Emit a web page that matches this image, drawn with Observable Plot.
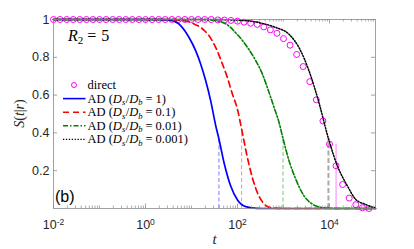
<!DOCTYPE html>
<html>
<head>
<meta charset="utf-8">
<script src="https://cdn.jsdelivr.net/npm/d3@7"></script>
<script src="https://cdn.jsdelivr.net/npm/@observablehq/plot@0.6"></script>
<style>
  html, body { margin: 0; padding: 0; background: #fff; }
  #chart svg { display: block; }
</style>
</head>
<body>
<div id="chart"></div>
<script>
// ---- data ----
const directT = [0.01,0.01389,0.01931,0.02683,0.03728,0.05179,0.07197,
  0.1,0.1389,0.1931,0.2683,0.3728,0.5179,0.7197,
  1,1.389,1.931,2.683,3.728,5.179,7.197,
  10,13.89,19.31,26.83,37.28,51.79,71.97,
  100,138.9,193.1,268.3,372.8,517.9,719.7,
  1000,1389,1931,2683,3728,5179,7197,
  10000,13895,19307,26827,37276,51795,71969,100000];
const directS = [1,1,1,1,1,1,1,
  1,1,1,1,1,1,1,
  1,1,1,1,1,1,1,
  1,1,1,1,0.998,0.997,
  0.995,0.991,0.986,0.980,0.974,0.961,0.945,0.927,
  0.899,0.864,0.815,0.751,0.671,0.575,0.463,
  0.341,0.226,0.127,0.055,0.02,0.004,0];

const adT1 = [0.01,1,2.13,3.52,5.8,8.79,12.3,15.8,20.3,26.1,33.5,39.5,50.7,70.8,100,151,269,500,100000];
const adS1 = [1,1,0.999,0.995,0.968,0.906,0.835,0.765,0.677,0.571,0.44,0.368,0.245,0.12,0.045,0.01,0.001,0,0];

const adT01 = [0.01,3,6.31,11.3,17.2,23.9,33.5,46.9,60.1,77.3,99.3,123,164,210,293,377,525,1000,100000];
const adS01 = [1,1,0.995,0.977,0.951,0.915,0.853,0.765,0.694,0.606,0.527,0.42,0.27,0.164,0.065,0.025,0.005,0,0];

const adT001 = [0.01,10,22.1,50.7,99.3,164,248,348,483,621,798,977,1318,1841,2793,4256,7015,15850,100000];
const adS001 = [1,1,0.999,0.982,0.92,0.853,0.783,0.711,0.615,0.536,0.456,0.37,0.253,0.156,0.067,0.023,0.005,0,0];

const adT0001 = [0.01,31.6,71,193,377,676,1318,2173,3589,5916,9484,14890,24550,37240,61520,91830,100000];
const adS0001 = [1,1,0.998,0.991,0.977,0.958,0.922,0.851,0.728,0.559,0.37,0.225,0.119,0.048,0.021,0.006,0.005];

// vertical marker lines (time, height reached)
const markerT = [39.5, 123, 977, 9484, 13895];
const markerS = [0.368, 0.42, 0.37, 0.37, 0.341];
const markerName = ["AD1", "AD01", "AD001", "AD0001", "direct"];

const xTickValues = [0.01, 1, 100, 10000];
const xTickBase = ["10", "10", "10", "10"];
const xTickExp = ["-2", "0", "2", "4"];
const yTickValues = [0.2, 0.4, 0.6, 0.8, 1];
const yTickLabels = ["0.2", "0.4", "0.6", "0.8", "1"];

const legendLabels = ["direct", "1", "0.1", "0.01", "0.001"];

// ---- build tables ----
const zip = (t, s) => t.map((v, i) => ({t: v, s: s[i]}));
const direct = zip(directT, directS);
const ad1 = zip(adT1, adS1);
const ad01 = zip(adT01, adS01);
const ad001 = zip(adT001, adS001);
const ad0001 = zip(adT0001, adS0001);
const markers = markerT.map((t, i) => ({t, s: markerS[i], name: markerName[i]}));

const markerStyle = {
  AD1: {stroke: "#5c5cff", strokeWidth: 0.8, dash: "4,2.5"},
  AD01: {stroke: "#ff6f6f", strokeWidth: 0.8, dash: "4,2.5"},
  AD001: {stroke: "#5fae5f", strokeWidth: 0.8, dash: "4,2.5"},
  AD0001: {stroke: "#a9a9a9", strokeWidth: 2, dash: "5,2.5"},
  direct: {stroke: "#ff8cff", strokeWidth: 1.1, dash: null}
};

// minor ticks on log axis
const minorX = [];
for (let d = -2; d <= 4; d++) {
  for (let k = 1; k <= 9; k++) {
    const v = k * Math.pow(10, d);
    if (!xTickValues.some(m => Math.abs(m - v) / v < 1e-9)) minorX.push(v);
  }
}

const W = 414, H = 249;
const mL = 53, mR = 39, mT = 19, mB = 41;
const innerH = H - mT - mB;
const innerW = W - mL - mR;
const axisCol = "#8a8a8a";
const textCol = "#262626";
const dotDash = "1.3,1.6";

const svg = Plot.plot({
  width: W,
  height: H,
  marginLeft: mL, marginRight: mR, marginTop: mT, marginBottom: mB,
  x: {type: "log", domain: [0.01, 100000], axis: null},
  y: {domain: [0, 1], axis: null},
  style: {background: "#fff", fontFamily: "'Liberation Sans', Arial, sans-serif", color: textCol},
  marks: [
    ...markers.map(m => Plot.ruleX([m], {
      x: "t", y1: 0, y2: "s",
      stroke: markerStyle[m.name].stroke,
      strokeWidth: markerStyle[m.name].strokeWidth,
      strokeDasharray: markerStyle[m.name].dash
    })),
    Plot.dot(direct, {x: "t", y: "s", r: 3, stroke: "#ff00ff", strokeWidth: 1, fill: "none"}),
    Plot.line(ad1, {x: "t", y: "s", stroke: "#0000ff", strokeWidth: 1.7, curve: "monotone-x"}),
    Plot.line(ad01, {x: "t", y: "s", stroke: "#ff0000", strokeWidth: 1.7, strokeDasharray: "6,4", curve: "monotone-x"}),
    Plot.line(ad001, {x: "t", y: "s", stroke: "#008000", strokeWidth: 1.6, strokeDasharray: "5,2,1.5,2", curve: "monotone-x"}),
    Plot.line(ad0001, {x: "t", y: "s", stroke: "#000000", strokeWidth: 1.5, strokeDasharray: dotDash, curve: "monotone-x"}),
    Plot.frame({stroke: axisCol, strokeWidth: 0.8}),
    Plot.ruleX(xTickValues, {x: d => d, insetTop: innerH - 4.5, stroke: axisCol, strokeWidth: 0.8}),
    Plot.ruleX(xTickValues, {x: d => d, insetBottom: innerH - 4.5, stroke: axisCol, strokeWidth: 0.8}),
    Plot.ruleX(minorX, {x: d => d, insetTop: innerH - 2.5, stroke: axisCol, strokeWidth: 0.7}),
    Plot.ruleX(minorX, {x: d => d, insetBottom: innerH - 2.5, stroke: axisCol, strokeWidth: 0.7}),
    Plot.ruleY(yTickValues, {y: d => d, insetRight: innerW - 4, stroke: axisCol, strokeWidth: 0.8}),
    Plot.ruleY(yTickValues, {y: d => d, insetLeft: innerW - 4, stroke: axisCol, strokeWidth: 0.8}),
    Plot.text(yTickValues, {y: d => d, text: (d, i) => yTickLabels[i], frameAnchor: "left", textAnchor: "end", dx: -4, fontSize: 12.5, fill: textCol}),
    Plot.text(xTickValues, {x: d => d, text: (d, i) => xTickBase[i] + "^" + xTickExp[i], frameAnchor: "bottom", dy: 20, fontSize: 12.5, fill: textCol})
  ]
});

const root = d3.select(svg);

// convert "10^e" labels into real superscripts
root.selectAll("text").each(function() {
  const el = d3.select(this);
  const m = /^(\d+)\^(-?\d+)$/.exec(el.text());
  if (m) {
    el.text(null);
    el.append("tspan").text(m[1]);
    el.append("tspan").attr("dy", "-0.45em").attr("font-size", "8.5px").text(m[2]);
  }
});

const serif = "'Liberation Serif', 'Times New Roman', serif";

// axis titles
root.append("text")
  .attr("transform", `translate(24,${mT + innerH / 2}) rotate(-90)`)
  .attr("text-anchor", "middle")
  .attr("font-family", serif).attr("font-size", 14).attr("fill", textCol)
  .call(t => {
    t.append("tspan").attr("font-style", "italic").text("S");
    t.append("tspan").text("(");
    t.append("tspan").attr("font-style", "italic").text("t");
    t.append("tspan").text("|");
    t.append("tspan").attr("font-style", "italic").text("r");
    t.append("tspan").text(")");
  });

root.append("text")
  .attr("x", mL + innerW / 2 + 0.5).attr("y", 244)
  .attr("text-anchor", "middle")
  .attr("font-family", serif).attr("font-size", 15).attr("font-style", "italic").attr("fill", textCol)
  .text("t");

// R2 = 5 annotation
root.append("text")
  .attr("x", 68).attr("y", 41)
  .attr("text-anchor", "start")
  .attr("font-family", serif).attr("font-size", 16).attr("fill", "#000")
  .call(t => {
    t.append("tspan").attr("font-style", "italic").text("R");
    t.append("tspan").attr("font-size", "11px").attr("dy", 3).text("2");
    t.append("tspan").attr("dy", -3).attr("dx", 4).text("=");
    t.append("tspan").attr("dx", 5).text("5");
  });

// panel tag
root.append("text")
  .attr("x", 55).attr("y", 202)
  .attr("text-anchor", "start")
  .attr("font-family", "'Liberation Sans', Arial, sans-serif").attr("font-size", 16).attr("fill", "#000")
  .text("(b)");

// legend
const lg = root.append("g").attr("text-anchor", "start");
const lx0 = 63, lx1 = 85.5, ltx = 87.5, ly0 = 85, lstep = 13.6;
const legendStyles = [
  {type: "circle"},
  {stroke: "#0000ff", dash: null, w: 1.6},
  {stroke: "#ff0000", dash: "6,4", w: 1.6},
  {stroke: "#008000", dash: "5,2,1.5,2", w: 1.5},
  {stroke: "#000000", dash: dotDash, w: 1.4}
];
legendLabels.forEach((lab, i) => {
  const y = ly0 + i * lstep;
  const st = legendStyles[i];
  if (st.type === "circle") {
    lg.append("circle").attr("cx", 74).attr("cy", y).attr("r", 2.5)
      .attr("fill", "none").attr("stroke", "#ff00ff").attr("stroke-width", 1);
  } else {
    lg.append("line").attr("x1", lx0).attr("x2", lx1).attr("y1", y).attr("y2", y)
      .attr("stroke", st.stroke).attr("stroke-width", st.w)
      .attr("stroke-dasharray", st.dash);
  }
  const t = lg.append("text").attr("x", ltx).attr("y", y + 4)
    .attr("text-anchor", "start")
    .attr("font-family", serif).attr("font-size", 12.5).attr("fill", "#000");
  if (i === 0) {
    t.text(lab);
  } else {
    t.append("tspan").text("AD (");
    t.append("tspan").attr("font-style", "italic").text("D");
    t.append("tspan").attr("font-style", "italic").attr("font-size", "8.5px").attr("dy", 2.5).text("s");
    t.append("tspan").attr("dy", -2.5).attr("dx", 0.5).text("/");
    t.append("tspan").attr("font-style", "italic").text("D");
    t.append("tspan").attr("font-style", "italic").attr("font-size", "8.5px").attr("dy", 2.5).text("b");
    t.append("tspan").attr("dy", -2.5).attr("dx", 3).text("=");
    t.append("tspan").attr("dx", 3).text(lab + ")");
  }
});

document.getElementById("chart").appendChild(svg);
</script>
</body>
</html>
